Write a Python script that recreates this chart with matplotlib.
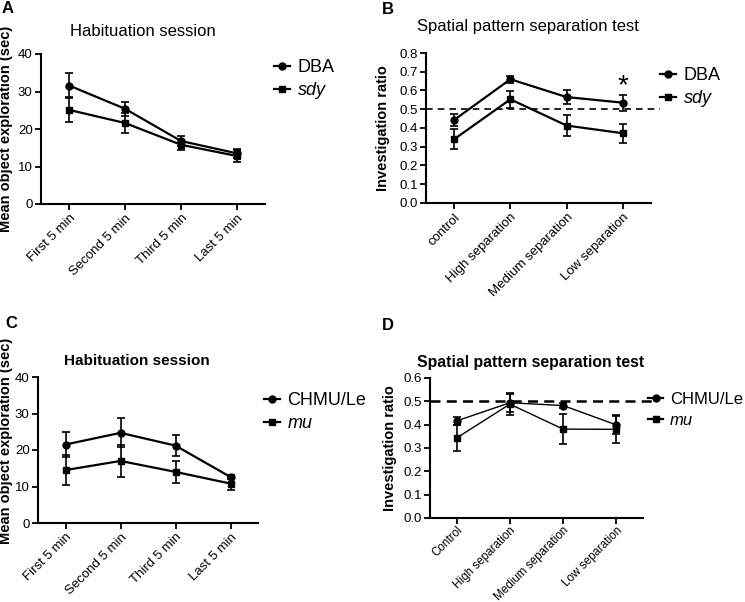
import numpy as np
import matplotlib
matplotlib.use('Agg')
import matplotlib.pyplot as plt
from matplotlib.lines import Line2D

plt.rcParams['font.family'] = ['Liberation Sans', 'DejaVu Sans']

# ---- data ----
hab_cats = ['First 5 min', 'Second 5 min', 'Third 5 min', 'Last 5 min']
sep_cats_b = ['control', 'High separation', 'Medium separation', 'Low separation']
sep_cats_d = ['Control', 'High separation', 'Medium separation', 'Low separation']

# A: habituation, DBA vs sdy
a_dba = [31.6, 25.4, 16.8, 13.5]
a_dba_err = [3.2, 1.8, 1.3, 1.2]
a_sdy = [25.1, 21.6, 15.8, 12.8]
a_sdy_err = [3.1, 2.7, 1.3, 1.6]

# B: spatial pattern separation, DBA vs sdy
b_dba = [0.443, 0.66, 0.565, 0.535]
b_dba_err = [0.033, 0.018, 0.035, 0.043]
b_sdy = [0.34, 0.553, 0.413, 0.372]
b_sdy_err = [0.052, 0.046, 0.058, 0.05]

# C: habituation, CHMU/Le vs mu
c_chmu = [21.5, 24.7, 21.2, 12.6]
c_chmu_err = [3.4, 4.0, 2.9, 0.6]
c_mu = [14.5, 17.0, 14.0, 10.8]
c_mu_err = [4.0, 4.3, 3.1, 1.8]

# D: spatial pattern separation, CHMU/Le vs mu
d_chmu = [0.416, 0.494, 0.482, 0.399]
d_chmu_err = [0.016, 0.04, 0.012, 0.04]
d_mu = [0.343, 0.488, 0.381, 0.38]
d_mu_err = [0.054, 0.045, 0.063, 0.06]

W, H = 745, 602
fig = plt.figure(figsize=(W / 100, H / 100), dpi=100)


def px_axes(left, right, top, bottom):
    return fig.add_axes([left / W, 1 - bottom / H, (right - left) / W, (bottom - top) / H])


def style(ax, cats, ylim, yticks, yfmt, ylabel, label_x, label_y=None, tsize=9.5, tpad=2):
    ax.spines['top'].set_visible(False)
    ax.spines['right'].set_visible(False)
    for s in ['left', 'bottom']:
        ax.spines[s].set_linewidth(1.5)
    ax.set_xlim(-0.5, len(cats) - 0.5)
    ax.set_ylim(*ylim)
    ax.set_yticks(yticks)
    ax.set_yticklabels([yfmt.format(v) for v in yticks])
    ax.set_xticks(range(len(cats)))
    ax.set_xticklabels(cats, rotation=45, ha='right', rotation_mode='anchor')
    ax.tick_params(direction='out', length=4, width=1.3, labelsize=9.5, pad=2)
    ax.tick_params(axis='x', labelsize=tsize, pad=tpad)
    ax.set_ylabel(ylabel, fontsize=10.5, fontweight='bold')
    # place the y label at a fixed pixel position
    pos = ax.get_position()
    x_ax = (label_x - pos.x0 * W) / (pos.width * W)
    y_ax = 0.5
    if label_y is not None:
        y_ax = ((1 - label_y / H) - pos.y0) / pos.height
    ax.yaxis.set_label_coords(x_ax, y_ax)


def series(ax, y, err, marker, lw):
    x = np.arange(len(y))
    ax.errorbar(x, y, yerr=err, color='black', marker=marker, markersize=5,
                lw=lw, elinewidth=1.2, capsize=3, capthick=1.2, clip_on=False)
    return Line2D([], [], color='black', marker=marker, markersize=5, lw=1.6)


def legend(ax, handles, labels, x, y, size=13):
    leg = ax.legend(handles, labels, loc='upper left', bbox_to_anchor=(x / W, 1 - y / H),
                    bbox_transform=fig.transFigure, frameon=False, fontsize=size,
                    handlelength=0.9, handletextpad=0.4, labelspacing=0.35,
                    borderaxespad=0, borderpad=0)
    leg.get_texts()[1].set_style('italic')


# Panel A
axA = px_axes(41, 265, 54, 204)
h1 = series(axA, a_dba, a_dba_err, 'o', 1.6)
h2 = series(axA, a_sdy, a_sdy_err, 's', 1.6)
style(axA, hab_cats, (0, 40), [0, 10, 20, 30, 40], '{:.0f}', 'Mean object exploration (sec)', 13)
fig.text(143 / W, 1 - 32 / H, 'Habituation session', fontsize=12, ha='center', va='center')
legend(axA, [h1, h2], ['DBA', 'sdy'], 274, 59)

# Panel B
axB = px_axes(426, 651, 53, 203)
axB.axhline(0.5, xmin=0, xmax=1.04, color='black', ls=(0, (4, 3)), lw=1.2, clip_on=False)
h1 = series(axB, b_dba, b_dba_err, 'o', 1.6)
h2 = series(axB, b_sdy, b_sdy_err, 's', 1.6)
style(axB, sep_cats_b, (0, 0.8), np.round(np.arange(0, 0.81, 0.1), 1), '{:.1f}',
      'Investigation ratio', 390)
fig.text(528 / W, 1 - 27 / H, 'Spatial pattern separation test', fontsize=12, ha='center', va='center')
axB.text(3, 0.625, '*', ha='center', va='center', fontsize=20)
legend(axB, [h1, h2], ['DBA', 'sdy'], 660, 67)

# Panel C
axC = px_axes(38, 258, 377, 523)
h1 = series(axC, c_chmu, c_chmu_err, 'o', 1.6)
h2 = series(axC, c_mu, c_mu_err, 's', 1.6)
style(axC, hab_cats, (0, 40), [0, 10, 20, 30, 40], '{:.0f}', 'Mean object exploration (sec)', 13,
      label_y=441)
fig.text(137 / W, 1 - 361 / H, 'Habituation session', fontsize=11, fontweight='bold',
         ha='center', va='center')
legend(axC, [h1, h2], ['CHMU/Le', 'mu'], 264, 392)

# Panel D
axD = px_axes(430, 643, 378, 518)
axD.axhline(0.5, xmin=0, xmax=1.05, color='black', ls=(0, (4, 2.5)), lw=1.8, clip_on=False)
h1 = series(axD, d_chmu, d_chmu_err, 'o', 1.0)
h2 = series(axD, d_mu, d_mu_err, 's', 1.0)
style(axD, sep_cats_d, (0, 0.6), np.round(np.arange(0, 0.61, 0.1), 1), '{:.1f}',
      'Investigation ratio', 397, tsize=8.4, tpad=0.5)
fig.text(531 / W, 1 - 362 / H, 'Spatial pattern separation test', fontsize=11.3, fontweight='bold',
         ha='center', va='center')
legend(axD, [h1, h2], ['CHMU/Le', 'mu'], 648, 392, size=12)

# panel letters
for lab, x, y in [('A', 2, 1), ('B', 382, 2), ('C', 5, 316), ('D', 382, 318)]:
    fig.text(x / W, 1 - y / H, lab, fontsize=12, fontweight='bold', va='top', ha='left')

fig.savefig('out.png', dpi=100)
